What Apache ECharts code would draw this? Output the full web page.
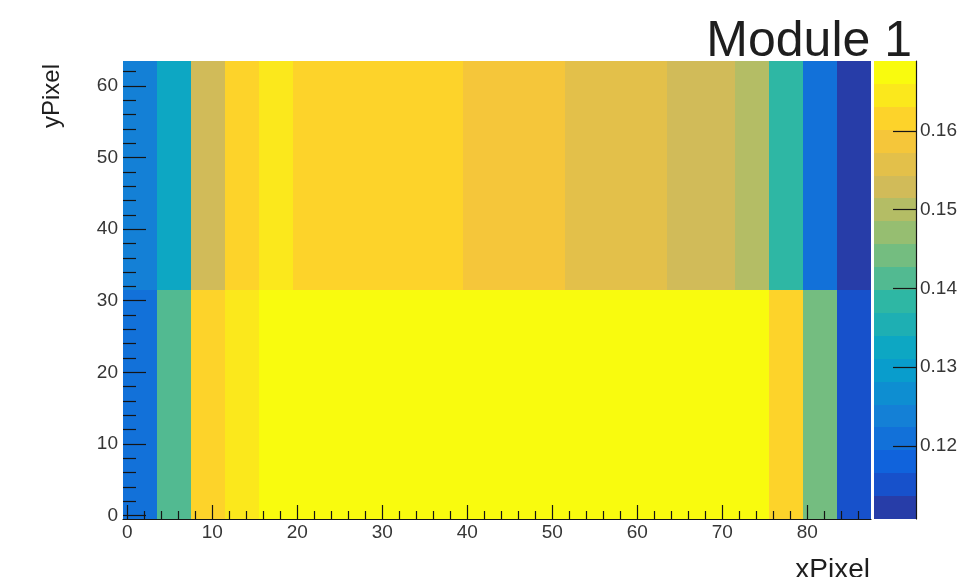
<!DOCTYPE html>
<html>
<head>
<meta charset="utf-8">
<script src="https://cdn.jsdelivr.net/npm/echarts@6/dist/echarts.min.js"></script>
<style>
  html, body { margin: 0; padding: 0; background: #ffffff; }
  #chart { width: 960px; height: 577px; }
</style>
</head>
<body>
<div id="chart"></div>
<script>
// Bin edges of the 2D histogram (pixel units)
const X_EDGES = [-0.5, 3.5, 7.5, 11.5, 15.5, 19.5, 23.5, 27.5, 31.5, 35.5, 39.5, 43.5,
                 47.5, 51.5, 55.5, 59.5, 63.5, 67.5, 71.5, 75.5, 79.5, 83.5, 87.5];
const Y_EDGES = [-0.5, 31.5, 63.5];

// Bin contents, lower row (y 0-31) and upper row (y 32-63), one value per x bin
const ROW_BOTTOM = [0.1212, 0.1413, 0.1617, 0.1646, 0.1684, 0.1687, 0.1689, 0.1686,
                    0.1688, 0.1685, 0.1687, 0.1689, 0.1686, 0.1684, 0.1688, 0.1687,
                    0.1685, 0.1686, 0.1683, 0.1618, 0.1442, 0.1150];
const ROW_TOP    = [0.1240, 0.1327, 0.1530, 0.1617, 0.1645, 0.1618, 0.1620, 0.1615,
                    0.1619, 0.1614, 0.1590, 0.1586, 0.1588, 0.1560, 0.1557, 0.1555,
                    0.1530, 0.1528, 0.1500, 0.1385, 0.1210, 0.1107];

const X_TICKS = [0, 10, 20, 30, 40, 50, 60, 70, 80];
const Y_TICKS = [0, 10, 20, 30, 40, 50, 60];
const Z_TICKS = [0.12, 0.13, 0.14, 0.15, 0.16];

const TITLE = 'Module 1';
const X_NAME = 'xPixel';
const Y_NAME = 'yPixel';

// ---- colour palette (bird) with a fixed number of contour levels ----
const N_CONTOURS = 20;
const N_COLORS = 255;
const STOPS = [0.0000, 0.1250, 0.2500, 0.3750, 0.5000, 0.6250, 0.7500, 0.8750, 1.0000];
const RED   = [0.2082, 0.0592, 0.0780, 0.0232, 0.1802, 0.5301, 0.8186, 0.9956, 0.9764];
const GREEN = [0.1664, 0.3599, 0.5041, 0.6419, 0.7178, 0.7492, 0.7328, 0.7862, 0.9832];
const BLUE  = [0.5293, 0.8684, 0.8385, 0.7914, 0.6425, 0.4662, 0.3499, 0.1968, 0.0539];

function birdColor(t) {
  let k = 0;
  while (k < STOPS.length - 2 && t > STOPS[k + 1]) k++;
  const f = (t - STOPS[k]) / (STOPS[k + 1] - STOPS[k]);
  const c = (arr) => Math.round(255 * (arr[k] + (arr[k + 1] - arr[k]) * f));
  return 'rgb(' + c(RED) + ',' + c(GREEN) + ',' + c(BLUE) + ')';
}

const bandColors = [];
for (let i = 0; i < N_CONTOURS; i++) {
  const idx = Math.min(Math.floor((i + 0.99) * N_COLORS / N_CONTOURS), N_COLORS - 1);
  bandColors.push(birdColor(idx / (N_COLORS - 1)));
}

const allValues = ROW_BOTTOM.concat(ROW_TOP);
const zMin = Math.min.apply(null, allValues);
const zMax = Math.max.apply(null, allValues);

function bandOf(v) {
  const b = Math.floor(0.01 + (v - zMin) * N_CONTOURS / (zMax - zMin));
  return Math.max(0, Math.min(N_CONTOURS - 1, b));
}

// cells: [x0, x1, y0, y1, value]
const cells = [];
[ROW_BOTTOM, ROW_TOP].forEach((row, r) => {
  row.forEach((v, i) => {
    cells.push([X_EDGES[i], X_EDGES[i + 1], Y_EDGES[r], Y_EDGES[r + 1], v]);
  });
});

// palette bands: [0, 1, lo, hi, band]
const bands = [];
for (let i = 0; i < N_CONTOURS; i++) {
  const lo = zMin + (zMax - zMin) * i / N_CONTOURS;
  const hi = zMin + (zMax - zMin) * (i + 1) / N_CONTOURS;
  bands.push([0, 1, lo, hi, i]);
}

// minor tick positions every 2 units
const X_MINOR = [];
for (let v = 2; v < 87.5; v += 2) if (v % 10 !== 0) X_MINOR.push(v);
const Y_MINOR = [];
for (let v = 2; v < 63.5; v += 2) if (v % 10 !== 0) Y_MINOR.push(v);

function rectItem(api, color) {
  const p0 = api.coord([api.value(0), api.value(2)]);
  const p1 = api.coord([api.value(1), api.value(3)]);
  const x0 = Math.round(p0[0]), x1 = Math.round(p1[0]);
  const yb = Math.round(p0[1]), yt = Math.round(p1[1]);
  return {
    type: 'rect',
    shape: { x: x0, y: yt, width: x1 - x0, height: yb - yt },
    style: { fill: color, stroke: null }
  };
}

const FONT = 'Liberation Sans, Helvetica, Arial, sans-serif';
const LABEL_COLOR = '#363636';
const TICK_COLOR = '#151515';

const chart = echarts.init(document.getElementById('chart'), null, { renderer: 'canvas' });

chart.setOption({
  animation: false,
  backgroundColor: '#ffffff',
  grid: [
    { left: 123, right: 89, top: 61, bottom: 58 },
    { left: 874, right: 43, top: 61, bottom: 58 }
  ],
  xAxis: [
    {
      type: 'value', gridIndex: 0, min: -0.5, max: 87.5, position: 'bottom', z: 10,
      axisLine: { show: true, onZero: false, lineStyle: { color: TICK_COLOR, width: 1.2 } },
      axisTick: { show: true, inside: true, length: 14, customValues: X_TICKS,
                  lineStyle: { color: TICK_COLOR, width: 1.2 } },
      axisLabel: { show: true, customValues: X_TICKS, margin: 4, fontSize: 19,
                   color: LABEL_COLOR, fontFamily: FONT },
      splitLine: { show: false }
    },
    {
      type: 'value', gridIndex: 0, min: -0.5, max: 87.5, position: 'bottom', z: 10,
      axisLine: { show: false, onZero: false },
      axisTick: { show: true, inside: true, length: 8, customValues: X_MINOR,
                  lineStyle: { color: TICK_COLOR, width: 1.2 } },
      axisLabel: { show: false },
      splitLine: { show: false }
    },
    {
      type: 'value', gridIndex: 1, min: 0, max: 1, show: false
    }
  ],
  yAxis: [
    {
      type: 'value', gridIndex: 0, min: -0.5, max: 63.5, position: 'left', z: 10,
      axisLine: { show: false, onZero: false },
      axisTick: { show: true, inside: true, length: 23, customValues: Y_TICKS,
                  lineStyle: { color: TICK_COLOR, width: 1.2 } },
      axisLabel: { show: true, customValues: Y_TICKS, margin: 5, fontSize: 19,
                   color: LABEL_COLOR, fontFamily: FONT },
      splitLine: { show: false }
    },
    {
      type: 'value', gridIndex: 0, min: -0.5, max: 63.5, position: 'left', z: 10,
      axisLine: { show: false, onZero: false },
      axisTick: { show: true, inside: true, length: 13, customValues: Y_MINOR,
                  lineStyle: { color: TICK_COLOR, width: 1.2 } },
      axisLabel: { show: false },
      splitLine: { show: false }
    },
    {
      type: 'value', gridIndex: 1, min: zMin, max: zMax, position: 'right', z: 10,
      axisLine: { show: true, onZero: false, lineStyle: { color: TICK_COLOR, width: 1.2 } },
      axisTick: { show: true, inside: true, length: 23, customValues: Z_TICKS,
                  lineStyle: { color: TICK_COLOR, width: 1.2 } },
      axisLabel: { show: true, customValues: Z_TICKS, margin: 4, fontSize: 19,
                   color: LABEL_COLOR, fontFamily: FONT,
                   formatter: (v) => v.toFixed(2) },
      splitLine: { show: false }
    }
  ],
  series: [
    {
      type: 'custom',
      xAxisIndex: 0, yAxisIndex: 0,
      data: cells,
      encode: { x: [0, 1], y: [2, 3] },
      clip: true,
      renderItem: (params, api) => rectItem(api, bandColors[bandOf(api.value(4))])
    },
    {
      type: 'custom',
      xAxisIndex: 2, yAxisIndex: 2,
      data: bands,
      encode: { x: [0, 1], y: [2, 3] },
      renderItem: (params, api) => rectItem(api, bandColors[api.value(4)])
    }
  ],
  graphic: [
    {
      type: 'text', x: 912, y: 42,
      style: { text: TITLE, font: '50px ' + FONT, fill: '#1e1e1e',
               textAlign: 'right', textVerticalAlign: 'middle' }
    },
    {
      type: 'text', x: 52, y: 96, rotation: Math.PI / 2,
      style: { text: Y_NAME, font: '24px ' + FONT, fill: '#1e1e1e',
               textAlign: 'center', textVerticalAlign: 'middle' }
    },
    {
      type: 'text', x: 870, y: 570,
      style: { text: X_NAME, font: '28px ' + FONT, fill: '#1e1e1e',
               textAlign: 'right', textVerticalAlign: 'middle' }
    }
  ]
});
</script>
</body>
</html>
